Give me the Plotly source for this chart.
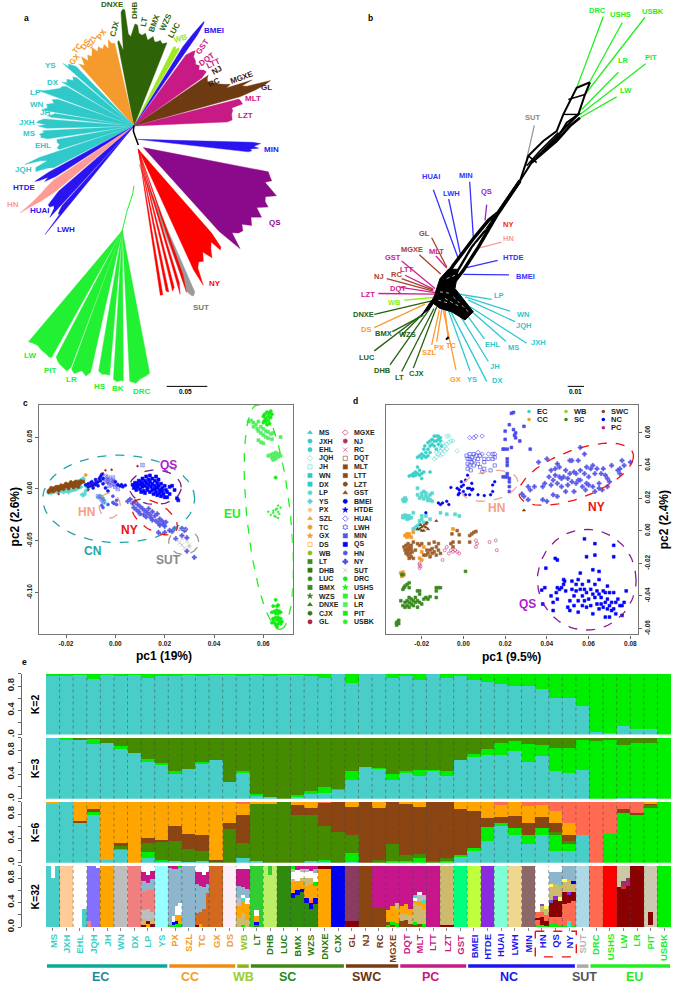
import numpy as np
import plotly.graph_objects as go

W, H = 673, 992
FONT = "Liberation Sans"
TEAL, ORANGE, LIMEY, DKGREEN, BROWN, PINK, BLUE, GRAY, LIME = "#2fc9c9", "#f59a2c", "#a0e820", "#2f6308", "#6e3a12", "#c71a85", "#2a14f0", "#9a9a9a", "#22f032"
SALMON, RED, PURPLE = "#ff9a94", "#ff0000", "#8b0a8b"

# ---------- panel a: branch tips (clock angle in degrees, branch length in scale units; 122 units = 0.05)
a_nodes = {"hub": (402, 380), "min": (412, 420), "qs": (430, 445), "ny": (415, 450), "sut": (417, 495), "eu": (367, 695)}
a_backbone_x = [402, 400, 405, 415]
a_backbone_y = [378, 395, 410, 437]
a_clades = [
    ("hub", DKGREEN, [(-11, 258), (-10, 262), (-8, 230), (-6.5, 345), (-5.5, 354), (-4.5, 352), (-3.5, 278), (-2, 270), (-1, 285), (.5, 308), (2, 305), (3, 280), (5, 275), (7, 282), (9, 262), (11, 270), (12, 276), (13.5, 262), (15, 262), (17, 270), (19, 262), (21.5, 270)]),
    ("hub", LIMEY, [(26.5, 265), (27.5, 270), (28.5, 262), (29.5, 272), (30.5, 268)]),
    ("hub", BLUE, [(31.5, 280), (32.5, 330), (33.6, 378), (34, 376), (34.7, 335)]),
    ("hub", PINK, [(36, 265), (38, 285), (39, 292), (40.5, 275), (43, 270), (45, 262), (47, 268), (49, 258), (51, 268), (53, 272), (54.5, 250)]),
    ("hub", BROWN, [(55.5, 270), (57, 262), (59, 258), (61, 270), (63, 280), (65, 298), (66.5, 315), (67.5, 300), (68.6, 380), (69.5, 345), (70.5, 360), (71.5, 432), (72.5, 410), (73.4, 380), (74.5, 330)]),
    ("hub", PINK, [(75.5, 325), (77, 330), (78.5, 332), (79.5, 298), (81, 300), (83, 295), (85, 296), (86.5, 295), (87.5, 280)]),
    ("min", BLUE, [(91.5, 345), (92, 370), (92.8, 358), (93.5, 350), (94.2, 365), (95, 340), (95.8, 345), (96.5, 335)]),
    ("qs", PURPLE, [(101, 382), (103, 390), (104.6, 398), (106, 380), (108, 400), (110, 425), (112, 395), (114, 400), (115.6, 415), (118, 385), (120.6, 412), (123, 385), (125.9, 401), (128, 375), (130, 390), (132, 385), (134, 370), (136.4, 421), (138, 340)]),
    ("ny", RED, [(139, 336), (140, 385), (141, 391), (142, 355), (144, 370), (146, 395), (148, 365), (150, 390), (152, 385), (153.5, 400), (154.6, 454), (155.5, 400)]),
    ("sut", GRAY, [(156.5, 420), (157.6, 430), (158.5, 425), (159.5, 410)]),
    ("ny", RED, [(160.5, 400), (161.5, 455)]),
    ("ny", RED, [(163, 420), (164, 455)]),
    ("ny", RED, [(165.5, 430), (166.5, 440)]),
    ("ny", RED, [(168, 440), (169, 436)]),
    ("ny", RED, [(170.5, 445), (171.5, 445)]),
    ("eu", LIME, [(220, 438), (218, 432), (216, 430), (214, 435), (212, 436), (210, 440), (209, 438)]),
    ("eu", LIME, [(207.5, 430), (206, 440), (205, 445), (203, 450), (201.5, 455), (200.5, 440)]),
    ("eu", LIME, [(200, 445), (198.5, 455), (196, 440), (194, 452), (192.5, 438)]),
    ("eu", LIME, [(189.5, 430), (188, 438), (186.5, 436), (185, 438)]),
    ("eu", LIME, [(183.4, 450), (182, 456), (180.5, 452), (179.6, 454)]),
    ("eu", LIME, [(177.2, 455), (175, 462), (173, 450), (171, 445), (169.2, 438)]),
    ("hub", ORANGE, [(-41.5, 250), (-39, 235), (-37, 262), (-35, 240), (-33, 255), (-31, 245), (-28, 268), (-26, 250), (-24, 262), (-22, 250), (-20, 262), (-18, 245), (-16.6, 272), (-15, 258), (-13, 256)]),
    ("hub", TEAL, [(-48.5, 285), (-47.5, 265), (-46.5, 272), (-45, 258), (-44, 250)]),
    ("hub", TEAL, [(-58.5, 254), (-57, 240), (-55, 246), (-53, 228), (-51, 236), (-49.8, 225)]),
    ("hub", TEAL, [(-69.5, 305), (-68, 285), (-66.5, 272), (-65, 262), (-63, 250), (-61, 246), (-59.5, 235)]),
    ("hub", TEAL, [(-80, 280), (-78, 265), (-76, 270), (-74, 250), (-72, 258), (-70.5, 240)]),
    ("hub", TEAL, [(-84, 250), (-83, 262), (-82, 246), (-81, 240)]),
    ("hub", TEAL, [(-85.5, 270), (-87, 288), (-88, 292), (-89, 265), (-90, 288), (-91.5, 262)]),
    ("hub", TEAL, [(-93, 275), (-94, 270), (-95, 285), (-96, 280), (-97, 282), (-98.5, 262)]),
    ("hub", TEAL, [(-100, 235), (-102, 236), (-104, 230), (-106, 240), (-107.5, 235)]),
    ("hub", TEAL, [(-108.5, 300), (-109.5, 347), (-110.5, 300), (-112, 280), (-113, 320), (-115, 325), (-116, 290), (-117.5, 270)]),
    ("hub", BLUE, [(-118.5, 290), (-119.3, 341), (-120, 330), (-121, 300), (-122, 316), (-123, 280)]),
    ("hub", SALMON, [(-124, 290), (-125, 320), (-126, 342), (-127, 380), (-127.5, 431), (-128, 400), (-129, 360), (-130, 310)]),
    ("hub", BLUE, [(-131, 300), (-132.7, 350), (-134, 352), (-135, 340), (-136, 345), (-137.5, 374)]),
    ("hub", BLUE, [(-138, 322), (-138.8, 340), (-139.5, 350), (-140, 345), (-140.8, 422)]),
]
a_labels = [("DNXE", 338, 14, 0, DKGREEN), ("CJX", 345, 87, -75, DKGREEN), ("DHB", 405, 30, -90, DKGREEN), ("LT", 432, 68, -80, DKGREEN), ("BMX", 462, 70, -70, DKGREEN), ("WZS", 497, 68, -65, DKGREEN), ("LUC", 522, 92, -60, DKGREEN), ("WB", 542, 117, -15, LIMEY), ("BMEI", 642, 92, 0, BLUE), ("GST", 608, 140, -55, PINK), ("DQT", 620, 178, -35, PINK), ("LTT", 640, 190, -25, PINK), ("NJ", 650, 213, -30, "#3a2010"), ("RC", 642, 248, -25, "#3a2010"), ("MGXE", 727, 235, -20, "#3a2010"), ("GL", 800, 263, 0, "#3a2010"), ("MLT", 760, 298, 0, PINK), ("LZT", 737, 347, 0, PINK), ("MIN", 815, 451, 0, BLUE), ("QS", 824, 670, 0, PURPLE), ("NY", 645, 855, 0, RED), ("SUT", 603, 926, 0, "#777777"), ("DRC", 427, 1179, 0, LIME), ("BK", 354, 1170, 0, LIME), ("HS", 300, 1165, 0, LIME), ("LR", 215, 1143, 0, LIME), ("PIT", 151, 1118, 0, LIME), ("LW", 89, 1072, 0, LIME), ("LWH", 199, 692, 0, BLUE), ("HUAI", 120, 635, 0, BLUE), ("HN", 40, 617, 0, SALMON), ("HTDE", 71, 564, 0, BLUE), ("JQH", 71, 512, 0, TEAL), ("EHL", 130, 440, 0, TEAL), ("MS", 88, 404, 0, TEAL), ("JXH", 80, 370, 0, TEAL), ("JH", 135, 340, 0, TEAL), ("WN", 112, 314, 0, TEAL), ("LP", 105, 280, 0, TEAL), ("DX", 158, 248, 0, TEAL), ("YS", 152, 197, 0, TEAL), ("GX", 224, 180, -50, ORANGE), ("TC", 232, 146, -50, ORANGE), ("DS", 257, 134, -55, ORANGE), ("SZL", 277, 126, -65, ORANGE), ("PX", 305, 103, -55, ORANGE)]

# ---------- panel b: network edges
NB, NT, NL, NR, NP, NG, NO = "#3333ff", "#2cc8d0", "#22ee22", "#a5432a", "#d02090", "#23610f", "#ff9a2e"
b_edges = [("DRC", 710, 265, 790, 50, NL, 773, 33), ("USHS", 750, 245, 847, 68, NL, 840, 45), ("USBK", 735, 285, 915, 52, NL, 940, 35), ("LR", 725, 330, 835, 218, NL, 850, 183), ("PIT", 720, 345, 917, 192, NL, 933, 174), ("LW", 720, 355, 830, 292, NL, 858, 274), ("SUT", 560, 480, 583, 378, "#999999", 576, 355), ("HUAI", 355, 780, 280, 572, NB, 274, 532), ("LWH", 362, 770, 326, 600, NB, 333, 583), ("MIN", 400, 715, 389, 548, NB, 379, 530), ("QS", 435, 665, 440, 617, "#9a20d0", 440, 577), ("HN", 415, 748, 485, 730, "#ff9a9a", 506, 720), ("HTDE", 380, 807, 473, 785, NB, 518, 777), ("BMEI", 370, 827, 507, 829, NB, 555, 834), ("GL", 320, 805, 275, 717, NR, 254, 705), ("MLT", 320, 808, 288, 772, NP, 290, 758), ("MGXE", 302, 826, 238, 768, NR, 217, 752), ("GST", 285, 870, 185, 787, NP, 160, 777), ("LTT", 280, 872, 195, 830, NP, 201, 812), ("RC", 280, 875, 185, 840, NR, 168, 828), ("NJ", 280, 878, 140, 840, NR, 116, 835), ("DQT", 285, 882, 178, 866, NP, 175, 871), ("LZT", 285, 887, 115, 885, NP, 85, 888), ("WB", 280, 897, 193, 905, "#90ee10", 163, 912), ("DNXE", 285, 905, 103, 948, NG, 69, 948), ("DS", 255, 917, 103, 988, NO, 77, 993), ("BMX", 250, 950, 157, 1000, NG, 129, 1007), ("WZS", 240, 955, 185, 1010, NG, 203, 1008), ("LUC", 250, 945, 103, 1058, NG, 82, 1077), ("DHB", 270, 930, 150, 1100, NG, 128, 1118), ("LT", 282, 930, 185, 1120, NG, 177, 1137), ("CJX", 290, 925, 220, 1110, NG, 229, 1127), ("SZL", 298, 935, 275, 1040, NO, 268, 1062), ("PX", 305, 935, 290, 1030, NO, 296, 1047), ("TC", 315, 935, 325, 1025, NO, 334, 1041), ("GX", 310, 935, 348, 1115, NO, 346, 1143), ("YS", 325, 935, 390, 1118, NT, 397, 1143), ("DX", 330, 935, 440, 1150, NT, 471, 1148), ("JH", 350, 935, 445, 1090, NT, 466, 1104), ("EHL", 370, 935, 433, 1022, NT, 458, 1038), ("MS", 385, 930, 498, 1030, NT, 520, 1049), ("JXH", 390, 925, 560, 1035, NT, 595, 1034), ("JQH", 385, 905, 525, 970, NT, 551, 981), ("WN", 375, 895, 510, 938, NT, 551, 948), ("LP", 345, 885, 455, 903, NT, 476, 892)]
b_mesh = [
    ([300, 340, 400, 445, 475, 540], [860, 800, 720, 665, 640, 545], 3.4),
    ([320, 370, 415, 470, 540], [880, 815, 745, 650, 545], 3.4),
    ([345, 395, 440, 475], [830, 745, 690, 640], 2.4),
    ([540, 565, 610, 650, 670, 710, 750], [545, 470, 425, 395, 345, 265, 248], 2),
    ([540, 575, 650, 680, 715, 735, 750], [545, 490, 420, 370, 345, 285, 248], 2),
    ([590, 650, 675, 720], [475, 410, 385, 340], 2.2),
    ([575, 650, 690, 720], [490, 425, 380, 355], 2.6),
    ([560, 600, 655], [500, 455, 400], 1.6),
    ([565, 590], [470, 490], 1.6),
    ([670, 715], [345, 345], 1.4),
    ([685, 735], [300, 285], 1.4),
    ([318, 326], [1024, 1016], 2),
]
b_blob_x = [285, 300, 325, 355, 345, 400, 375, 335, 300, 280, 270, 245, 275]
b_blob_y = [885, 840, 812, 812, 870, 940, 965, 940, 930, 915, 930, 950, 905]
b_slits = [([300, 335], [880, 885]), ([315, 360], [900, 925]), ([340, 385], [895, 940]), ([320, 345], [840, 830]), ([295, 330], [905, 915]), ([405, 418], [738, 725]), ([432, 445], [695, 682])]

# ---------- panel c: principal components (values x 1000)
c_ec = [(-27, -3.5), (-26, -4), (-25, -3), (-24, -2.5), (-23, -3), (-22, -2), (-21, -3), (-20, -2), (-19, -3), (-18, -1.5), (-17, -1), (-16, -.5), (-15, 1), (-14, 2), (-14.5, 7), (-14, 8), (-15, 7.5), (-13.5, 9), (-13, 8.5), (-13, 10), (-13.5, -5.5), (-13, -6), (-12.5, -5), (-6, -7), (-7, -8), (-5.5, -8.5), (-4.5, -11), (-4.5, -13), (-5, -9), (-12, -2), (-11, 0), (-11, 2), (-12, 3)]
c_cc = [(-22, 4), (-20, 5), (-24, 1), (-21, 3), (-18, 6.5), (-16, 7), (-12, 13.5), (-19, 2)]
c_sc = [(-25, 0), (-22, 1), (-20, 3), (-18, 4), (-23, 2), (-17, 5)]
c_swc = [(-27, -2), (-26.5, -1), (-26, -2), (-26, 0), (-25.5, -1), (-25, -1), (-25, .5), (-24.5, -.5), (-24, 0), (-24, 1), (-23.5, .5), (-23, 0), (-23, 1.5), (-22.5, 1), (-22, 1.5), (-22, .5), (-21.5, 2), (-21, 1.5), (-21, 3), (-20.5, 2), (-20, 3), (-20, 4), (-19.5, 3), (-19, 4), (-19, 2), (-18.5, 4.5), (-18, 3), (-18, 5), (-17.5, 4), (-17, 5), (-17, 3), (-16.5, 6), (-16, 4.5), (-16, 3), (-15.5, 5), (-15, 4), (-14.5, 5), (-14, 6), (-27, -3), (-26, 1), (-25, -2), (-24, 2), (-23, -1.5), (-22, 3), (-21, 0), (-20, 5), (-19, .5), (-18, 6.5), (-17, 1.5), (-16, 7), (-15, 6.5), (-14, 7.5), (-13, 7), (-15, 2)]
c_pc = [(-23, -5), (-11, -1), (-9, 2), (-8, 7), (-3, 6), (-1, 8), (-3, 10), (9, 22), (-4, 18), (-1.5, 18.5), (-5, 15)]
c_nc = [(-12, 4), (-11, 5), (-11, 2), (-10, 6), (-10, 3), (-9.5, 7), (-9, 1), (-9, 4), (-8.5, 5), (-8, 9), (-8, 4), (-7.5, 6), (-7, 7), (-7, 3), (-6.5, 10), (-6, 12), (-6, 8), (-5.5, 14), (-5, 10), (-5, 5), (0, 7), (1, 4), (2, 3), (2.5, 4), (3, 2), (4, 3.5), (-4, 1), (-3, -2)]
c_nc2 = [(-4, 12), (-3.5, 9), (-3, 11), (-3, 7), (-2, 9), (-2, 6), (-1.5, 4), (-1, 8), (-.5, 5), (0, 2), (.5, 4), (-1, 11), (-2.5, 3), (1, 0), (-4, 7), (11, 23), (-6, -8), (-7, -7), (-5, -12), (-5.5, -10)]
c_qs = [(7, 4), (7.5, 1), (8, 6), (8, 3), (8.5, -1), (9, 5), (9, 2), (9.5, 8), (10, 4), (10, 0), (10.5, 7), (10.5, -3), (11, 10), (11, 5), (11, 2), (11.5, -2), (12, 8), (12, 3), (12, -4), (12.5, 12), (12.5, 6), (13, 1), (13, -1), (13.5, 9), (13.5, 4), (14, 13), (14, 7), (14, -3), (14.5, 2), (15, 10), (15, 5), (15, -1), (15.5, -5), (16, 8), (16, 3), (16, 0), (16.5, 12), (16.5, -3), (17, 6), (17, 1), (17, -6), (17.5, 9), (17.5, 3), (18, -1), (18, -4), (18.5, 5), (18.5, -7), (19, 1), (19, -2), (19.5, -5), (20, 3), (20, -8), (20.5, -1), (21, -3), (21, -8), (22, 2), (22, -5), (23, 3), (25, -9), (25.5, -11), (24, -1)]
c_ny = [(6, -10), (5, -12), (7, -14), (7.5, -18), (8, -12), (8.5, -20), (9, -15), (9.5, -22), (10, -17), (10, -24), (11, -19), (11.5, -25), (12, -21), (12.5, -27), (13, -23), (13.5, -19), (14, -25), (14.5, -28), (15, -22), (15, -30), (16, -26), (16.5, -31), (17, -24), (17.5, -33), (18, -29), (18, -35), (19, -31), (19.5, -34), (20, -36), (20.5, -32), (17.5, -42), (20, -42), (22, -40), (23, -41), (24, -38), (27, -38), (28, -40), (28.5, -39), (27, -45), (32, -66), (29, -60), (24.5, -48), (29, -47)]
c_hn = [(-1, -7), (-1, -13), (-.5, -14), (.5, -15), (.5, -11), (-3, -15), (-5, -18), (-5.5, -16)]
c_sut = [(25, -49), (26, -52), (27, -48), (28, -57), (29, -50), (30, -54), (30, -56), (27, -54)]
c_eu1 = [(60, 70), (60.5, 72), (61, 68), (61.5, 74), (62, 70), (62.5, 73), (63, 69), (63, 75), (61, 65), (61.5, 62), (62, 66), (60, 64), (62.5, 63), (63.5, 72), (60.5, 66), (65, 11), (65, -107), (64, -113), (65.5, -113), (66, -112), (63.5, -119), (64.5, -118), (65, -120), (65.5, -117), (66, -120), (66.5, -118), (67, -119), (64, -125), (65, -124), (65.5, -126), (66, -124), (66.5, -127), (67, -125), (63.5, -129), (64.5, -129), (65, -131), (66, -130), (67, -130), (67.5, -128), (65.5, -133), (64, -126)]
c_eu2 = [(54, 65), (55, 66), (56, 64), (56, 60), (57, 62), (57.5, 58), (58, 65), (58, 56), (59, 60), (59, 54), (60, 58), (60, 52), (61, 56), (61, 50), (62, 55), (62, 49), (63, 53), (64, 54), (63.5, 48), (67, 50), (58, 47), (59, 45), (60, 44), (62, 32), (63, 33), (63.5, 30), (64, 34), (64.5, 31), (65, 35), (65, 29), (65.5, 33), (66, 31), (66, 34), (67, 32), (64, 28)]
c_eu3 = [(62, -22), (63, -25), (64, -23), (64.5, -26), (65, -20), (65, -27), (65.5, -19), (66, -16), (66, -22), (66, -28), (66.5, -24), (67, -18), (64, -21)]
c_groups = [(c_eu2, "#55ee66", "square", 3), (c_eu1, "#11ee11", "circle", 3.2), (c_eu3, "#33ee33", "circle", 1.8), (c_ec, "#58d8d0", "diamond", 3.4), (c_cc, ORANGE, "circle", 3), (c_sc, "#3a8a20", "square", 3), (c_swc, "#8b4a14", "circle", 3.4), (c_pc, "#b0143c", "circle", 1.8), (c_nc2, "#6a6af5", "square-x-open", 3.6), (c_nc, "#1010f0", "circle", 3), (c_hn, "#5555e8", "circle", 3), (c_ny, "#5a5ae8", "cross", 3.6), (c_qs, "#0000ff", "square", 3), (c_sut, "#b0b0b0", "x-thin-open", 4)]
c_ellipses = [(1.35, -9.6, 30.8, 0, 0, 42.2, "#20a5a8"), (16.2, 1.6, 10.5, 0, 0, 16.6, "#7a1a7a"), (-2.3, -16, 4.3, 0, 0, 12.1, "#f4a58a"), (15.9, -27, 8.8, -13.4, 3, 10.9, "#ee1111"), (27.7, -51.1, 6.1, 0, 0, 12.1, "#999999"), (62.2, -27.2, 4.7, -108.3, 8.8, 2.2, "#22ee22")]
c_texts = [("QS", 505, 203, "#b020d0"), ("HN", 260, 343, "#f8a080"), ("NY", 388, 397, "#ee1111"), ("CN", 276, 460, "#20a5a8"), ("SUT", 505, 490, "#888888"), ("EU", 698, 350, "#22ee22")]

# ---------- panel c legend
leg_col1 = [("MS", TEAL, "triangle-up"), ("JXH", TEAL, "circle"), ("EHL", TEAL, "circle-dot"), ("JQH", "#58d8d0", "diamond-open"), ("JH", "#58d8d0", "square-open"), ("WN", TEAL, "square"), ("DX", TEAL, "square"), ("LP", "#58d8d0", "circle"), ("YS", "#58d8d0", "diamond"), ("PX", ORANGE, "asterisk-open"), ("SZL", ORANGE, "triangle-up"), ("TC", ORANGE, "circle"), ("GX", ORANGE, "star"), ("DS", ORANGE, "square-open"), ("WB", "#86c020", "circle"), ("LT", "#3a8a20", "square-x"), ("DHB", "#2f7a10", "square"), ("LUC", "#3a8a20", "circle"), ("BMX", "#3a8a20", "square-x"), ("WZS", "#3a8a20", "star"), ("DNXE", "#2f7a10", "triangle-up"), ("CJX", "#2f7a10", "circle"), ("GL", "#b0143c", "circle-dot")]
leg_col2 = [("MGXE", "#b0143c", "diamond-open"), ("NJ", "#b0305c", "circle"), ("RC", "#b0305c", "x-thin-open"), ("DQT", "#8b4a14", "square-open"), ("MLT", "#8b4a14", "square-x"), ("LTT", "#8b4a14", "square"), ("LZT", "#8b4a14", "circle"), ("GST", "#8b4a14", "triangle-up"), ("BMEI", "#0000ee", "circle"), ("HTDE", "#0000ee", "star"), ("HUAI", "#2222ee", "diamond-open"), ("LWH", "#2222ee", "hexagram-open"), ("MIN", "#5555e8", "square-x"), ("QS", "#0000ff", "square"), ("HN", "#5555e8", "circle"), ("NY", "#4a4ae8", "cross"), ("SUT", "#b0b0b0", "x-thin-open"), ("DRC", "#11ee11", "circle"), ("USHS", "#11ee11", "star"), ("LW", "#33ee33", "square-x"), ("LR", "#55ee66", "square"), ("PIT", "#11ee11", "square"), ("USBK", "#33ee33", "circle")]

# ---------- panel d: principal components (values x 1000)
d_ec1 = [(-22, 45), (-21, 46), (-20, 47), (-20, 44.5), (-19, 50), (-19, 46), (-18.5, 52), (-18, 48), (-18, 45), (-17, 54), (-17, 50), (-17, 46), (-16, 55), (-16, 52), (-16, 48), (-15, 56), (-15, 53), (-14, 58), (-14, 55), (-14, 52), (-13, 58), (-13, 55), (-13, 50), (-12, 58), (-12, 56), (-12, 53), (-11, 57), (-11, 55), (-10.5, 52), (-26, 33.5), (-25, 34), (-24, 35), (-24, 33.5), (-23, 36), (-23, 34), (-22, 39), (-22, 35), (-21, 37), (-21, 34), (-20, 35), (-20, 32), (-19, 36), (-16, 36)]
d_ec2 = [(-13, 48), (-13, 45), (-12, 50), (-12, 47), (-11, 52), (-11, 49), (-11, 46), (-10, 54), (-10, 50), (-10, 47), (-9, 52), (-9, 49), (-8, 58), (-8, 53), (-8, 50), (-7, 58), (-7, 54), (-6, 55), (-5, 55), (-3, 49), (-14, 44)]
d_ec3 = [(-29, 19), (-28.5, 18), (-28, 19.5), (-28, 18), (-28, 20), (-27.5, 19), (-22, 26), (-22, 22), (-21, 20), (-20, 21), (-20, 23), (-19, 19.5), (-19, 24), (-18, 21), (-18, 23), (-17, 18.5), (-17, 20), (-16, 22), (-16, 19), (-15, 18), (-15, 23), (-29, 9), (-29, 8), (-28, 9.5), (-28, 8), (-27, 9), (-27, 7), (-26, 9), (-26, 7.5), (-25, 8), (-24, 11), (-23, 2), (-24, 1), (-22, 3), (-22, 1), (-21, 4), (-21, 6), (-20, 9), (-20, 7), (-19, 5), (-18, 9), (-16, 7), (-11, 11), (-8, 10), (-4, 10), (-2, 9)]
d_cc = [(-28, -3), (-27, -2), (-27, -4), (-26, -3), (-26, -2), (-25, -4), (-24, -1), (-19, -10), (-20, -13), (-21, -17), (-20, -18), (-5, 1), (-30, -26), (-29.5, -28), (-29, -25.5), (-28.5, -27)]
d_swc = [(-28.5, -10), (-28, -12), (-27.5, -9), (-27.5, -14), (-27, -11), (-27, -13), (-26.5, -8), (-26.5, -15), (-26, -10), (-26, -12), (-26, -17), (-25.5, -14), (-25, -9), (-25, -11), (-25, -16), (-24.5, -13), (-24, -17), (-24, -7), (-23, -12), (-22, -8), (-21, -9), (-20, -8), (-19, -15), (-18, -15), (-17.5, -12), (-17, -14), (-16.5, -8), (-16, -12), (-16, -16), (-15, -11), (-15, -14), (-14, -7), (-14, -13), (-13, -10), (-13, -15), (-12, -12), (-12, -8), (-11, -14), (-6, -8), (-5, -10), (-5, -7), (-5.5, -2), (-3, 0), (-2, -2.5), (-2, -7), (3, -3), (3, -7), (4, -2), (5, -1), (6, -.5)]
d_swc2 = [(-21, 1), (-20, 2), (-19, 3), (-18, 2), (-19, 0), (-20, 0), (-22, 1), (-18, 4), (-17, 1), (-20.5, 3.5), (-17.5, 5), (-13, 6), (29, 12.5)]
d_pc = [(-9, -12), (-8, -10), (-7, -14), (-6, -12), (-5, -13), (-4, -12), (-3, -13), (-2, -14), (-10, -18), (-21, -20), (-20.5, -22), (-21, -21), (-21, -23), (6, -6), (6.5, -8), (6, -10), (12.5, -7), (15.5, -6), (16, -12)]
d_sc = [(-28.5, -35), (-28, -34), (-27, -33), (-26, -32), (-26, -35), (-29, -36), (-30, -43), (-29, -46), (-28, -44), (-28, -47), (-27, -43), (-27, -46), (-26, -41), (-26, -44), (-26, -47), (-25, -42), (-25, -45), (-24, -43), (-24, -46), (-23, -41), (-23, -44), (-22, -43), (-22, -47), (-21, -39), (-21, -44), (-20, -45), (-19, -42), (-18, -41), (-17, -42), (-16, -40.5), (-22, -37), (-21, -37), (-13, -35), (-13, -37), (-12, -35), (-11, -35), (-13, -41), (-32, -57), (-31.5, -56), (-31, -57), (-32, -58), (-31, -55), (-32, -56.5), (1, -25), (-29.5, -27), (-29, -27)]
d_nc1 = [(1.5, 46), (2, 44), (2, 41), (2, 38), (3, 47), (3, 44), (3, 40), (3.5, 37), (4, 45), (4, 42), (5, 47), (5, 43), (5, 40), (6, 46), (7, 44), (7, 41), (8, 46), (8, 39), (9, 36), (10, 44), (10, 42), (10, 38), (12, 44), (13, 37), (14, 47), (14, 44), (15, 45), (15, 40)]
d_nc2 = [(3, 57), (5, 57), (6, 58), (9, 58), (7, 48), (9, 47), (12, 47), (15, 47)]
d_nc3 = [(-6, 26.5), (-3, 26), (-2, 25), (-2, 23), (-2.5, 22), (-1, 30), (-1, 27), (0, 28), (0, 24), (1, 22), (1, 31), (2, 26), (2, 34), (3, 22), (3, 26), (4, 29), (4, 25), (4.5, 25.5), (7, 22), (10, 21.5), (13, 22), (14, 28), (14, 24), (15, 30), (-7, 16), (-8, 18), (-10, 17), (-11, 16), (-12, 17), (-18, 11)]
d_nc4 = [(23, 72), (24, 72.5), (22, 65), (20, 61), (24, 62), (25, 60), (25, 57), (24.5, 58.5), (27, 55), (29, 64), (32, 50), (19.5, 50), (20, 56), (21, 50), (19, 50), (23, 51), (21, 44), (21, 42), (21, 40), (21, 35), (21, 33), (19, 33), (20, 33), (22, 32), (22, 30), (22, 27), (22, 24)]
d_ny = [(28, 22.5), (29, 21), (31, 19), (31, 27), (32, 25), (34, 27), (36, 42), (38, 27), (38, 19), (39, 29), (40, 18), (40, 44), (41, 33), (42, 28), (42, 37), (43, 31), (43, 22), (44, 34), (44, 38), (45, 29), (45, 21), (45, 41), (46, 33), (46, 39), (47, 32), (47, 27), (48, 33), (49, 24), (49, 37), (50, 32), (50, 28), (51, 35), (51, 43), (52, 30), (52, 43), (53, 24), (53, 36), (54, 29), (54, 35), (55, 31), (55, 43), (56, 31), (56, 37), (56, 51), (57, 27), (58, 35), (58, 47), (58.5, 25), (59, 29), (59, 39), (60, 28), (60, 33), (61, 38), (62, 40), (62, 27), (63, 35), (63, 24), (64, 38), (65, 26), (65, 29), (66, 35), (67, 38), (66.5, 25), (68, 34), (69, 32), (69, 27), (70, 30), (71, 40), (74, 37), (75, 35), (75, 38), (77, 40), (76, 43), (80, 42)]
d_qs = [(37.5, -36.5), (39, -35), (38, -45), (39.5, -23), (42, -40), (43, -44), (44, -17), (45, -18), (44.5, -38), (45, -42), (45, -35), (43, -49), (47, -35), (46, -36), (48, -33), (48, -30), (48.5, -31), (49, -37), (50, -47), (51, -43), (51, -49), (52, -36), (52, -31), (53, -40), (53, -46), (54, -33), (54, -37), (55, -43), (55, -30), (55, -50), (56, -36), (56, -26), (57, -40), (57, -46), (57, -33), (58, -5), (58, -36), (58, -43), (59, -38), (59, -47), (59, -16), (60, -31), (60, -42), (61, -36), (61, -46), (62, -39), (62, -24), (62, -51), (63, -8), (63, -15), (63, -33), (63, -41), (64, -37), (64, -45), (65, -39), (65, -25), (65, -30), (65, -48), (66, -41), (66, -45), (67, -37), (67, -47), (68, -38), (68, -44), (68, -53), (69, -34), (69, -42), (69, -48), (70, -38), (70, -46), (70, -53), (71, -49), (71, -44), (72, -38), (72, -48), (72, -16), (72, -9), (73, -44), (73, -51), (74, -42), (75, -46), (76, -46), (76, -52), (77, -44), (78, -37)]
d_groups = [(d_ec1, "#3ccfc8", "circle", 3), (d_ec2, "#58d8d0", "diamond-open", 3.4), (d_ec3, "#58d8d0", "square", 3), (d_cc, ORANGE, "square", 3), (d_swc, "#a0602c", "square", 2.8), (d_swc2, "#7a3810", "triangle-up", 2.8), (d_pc, "#c83080", "circle-open", 3), (d_sc, "#3a8a20", "square", 2.8), (d_nc1, "#3c3ce8", "square-open", 3.2), (d_nc2, "#3c3ce8", "diamond-open", 3.4), (d_nc3, "#0000ee", "circle", 2.6), (d_nc4, "#4a4ae8", "square", 2.8), (d_ny, "#5a5ae8", "cross", 3.6), (d_qs, "#0000ff", "square", 2.8)]
d_ellipses = [(12.46, 27.5, 13.6, 2.4, 0, 9.2, "#f4a58a"), (54, 34.6, 27.3, 9.2, 3.2, 16.7, "#ee1111"), (59.1, -30.1, 23.64, 0, 0, 30.9, "#8b1a8b")]
d_texts = [("HN", 380, 333, "#f8a080"), ("NY", 678, 330, "#ee1111"), ("QS", 471, 620, "#b020d0")]
d_legend = [("EC", 477, 41, "#3ccfc8"), ("CC", 477, 65, ORANGE), ("WB", 588, 41, "#a0c830"), ("SC", 588, 65, "#2f8a10"), ("SWC", 700, 41, "#8b4513"), ("NC", 700, 65, "#0000ee"), ("PC", 700, 90, "#c71a85")]

# ---------- panel e: admixture
pops = ["MS", "JXH", "EHL", "JQH", "JH", "WN", "DX", "LP", "YS", "PX", "SZL", "TC", "GX", "DS", "WB", "LT", "DHB", "LUC", "BMX", "WZS", "DNXE", "CJX", "GL", "NJ", "RC", "MGXE", "DQT", "MLT", "LTT", "LZT", "GST", "BMEI", "HTDE", "HUAI", "LWH", "MIN", "HN", "QS", "NY", "SUT", "DRC", "USHS", "LW", "LR", "PIT", "USBK"]
pop_groups = [("EC", 9, "#3ccfc8"), ("CC", 5, "#f59a2c"), ("WB", 1, "#8fc31f"), ("SC", 7, "#2f7a10"), ("SWC", 4, "#7a3a12"), ("PC", 5, "#c71a85"), ("NC", 8, "#1a14ee"), ("SUT", 1, "#b5b5b5"), ("EU", 6, "#22ee22")]
cT, cL, cD, cB, cO, cC = "#48cdc8", "#00ee00", "#458b00", "#8b4513", "#ffa500", "#ff6a50"
k2_teal = [.98, .96, .99, .92, .99, .96, .99, .94, .97, .97, .99, .97, .99, .99, .97, .99, .98, .99, .99, .97, .94, 1, .85, 1, 1, .93, .98, .9, 1, .93, .98, .9, .87, .83, .8, .8, .75, .6, .6, .47, .04, .02, .15, .1, .1, 0]
k3_teal = [1, .97, .97, .9, .92, .82, .75, .62, .55, .42, .49, .58, .63, .27, .42, .05, .02, 0, .04, .08, .1, .15, .3, .52, .49, .3, .43, .38, .47, .38, .63, .68, .72, .72, .78, .6, .7, .45, .42, .47, 0, 0, .01, .01, .01, 0]
k3_lime = [0, .03, 0, .09, 0, .05, 0, .03, .04, .03, 0, .02, 0, 0, .04, .03, 0, 0, .02, .04, .1, .01, .15, 0, .01, .1, .02, .1, .01, .08, 0, .05, .1, .2, .17, .3, .18, .38, .42, .5, .95, .97, .88, .9, .9, 1]
k6_shares = [[.97, 0, 0, 0, .03, 0], [1, 0, 0, 0, 0, 0], [.67, 0, 0, .02, .31, 0], [.8, .03, 0, .05, .12, 0], [.05, 0, 0, 0, .95, 0], [.21, .03, .03, .05, .68, 0], [0, 0, 0, 0, 1, 0], [.08, .1, .15, .08, .59, 0], [.02, .03, .3, .03, .62, 0], [.02, 0, .33, .25, .4, 0], [.01, 0, .22, .25, .52, 0], [.03, 0, .17, .25, .55, 0], [0, 0, .02, .02, .96, 0], [0, 0, .55, .1, .35, 0], [.07, 0, .26, .45, .2, .02], [.02, 0, .96, 0, .02, 0], [0, 0, .97, 0, .03, 0], [0, 0, 1, 0, 0, 0], [0, 0, .78, .17, .05, 0], [.02, 0, .76, .12, .1, 0], [.02, .03, .55, .39, 0, .01], [0, 0, .5, .5, 0, 0], [.01, .15, .3, .45, .09, 0], [0, 0, 0, 1, 0, 0], [0, 0, .05, .85, .1, 0], [0, .03, .27, .7, 0, 0], [0, .03, .1, .85, .02, 0], [0, .08, .07, .77, .08, 0], [0, 0, .03, .97, 0, 0], [0, .04, .03, .93, 0, 0], [.1, .02, 0, .76, .12, 0], [.2, .05, 0, .6, .15, 0], [.36, .22, 0, .16, .26, 0], [.6, .05, 0, .1, .2, .05], [.45, .12, 0, .2, .23, 0], [.3, .15, 0, .2, .28, .07], [.45, .12, 0, .18, .2, .05], [.2, .25, .05, .15, .2, .15], [.2, .1, .05, .1, .2, .35], [.46, 0, 0, 0, 0, .54], [0, 0, 0, 0, 0, 1], [0, .47, 0, 0, 0, .53], [0, .82, 0, .06, 0, .12], [0, .78, 0, .04, 0, .18], [0, .9, .06, .02, .02, 0], [0, 1, 0, 0, 0, 0]]
k6_colors = [cT, cL, cD, cB, cO, cC]
WHT, MAG, BG, TAN, DR, DKF = "#ffffff", "#c7158c", "#8db6cd", "#cdba6e", "#8b0000", "#2e8b0e"
BRN, GRY, SLM, IND, PRP, YEL, TRQ, CHO, VIO = "#8b4513", "#bebebe", "#f08080", "#0000ee", "#8a2be2", "#ffff66", "#40e0d0", "#d2691e", "#6a5acd"
k32_segments = [
    [(cT, 1)], [("#ffcc99", 1)], [(WHT, 1)], [("#8470ff", 1)], [(cO, 1)], [(GRY, 1)], [(SLM, 1)],
    [(SLM, 1)], [("#98ffff", 1)],
    [(BG, 1)], [(BG, 1)], [(BG, 1)], [(CHO, 1)], [("#fbeef5", 1)],
    [(TAN, 1)], [("#32cd32", 1)], [("#bcee68", 1)], [(DKF, 1)],
    [(DKF, 1)], [(DKF, 1)], [(cO, .95), (DR, .05)], [(IND, 1)],
    [(DR, .1), ("#8b3a62", .9)], [(BRN, 1)], [(BRN, .32), (MAG, .68)], [(MAG, 1)], [(MAG, 1)],
    [(MAG, 1)], [(MAG, 1)], [(DR, .04), (TAN, .96)], [("#00ff7f", 1)], [("#c0ff3e", 1)], [(PRP, 1)], [("#7fffd4", 1)], [("#eed78f", 1)], [("#8b6969", 1)],
    [(WHT, 1)], [(WHT, 1)], [(WHT, 1)],
    [("#add8e6", 1)], [(cC, 1)], [("#ff0000", 1)], [(DR, 1)], [(DR, 1)], [("#cdc8b1", 1)], [(cL, 1)]]
k32_columns = {
    "MS": [[(cT, 1)], [(cT, .8), (WHT, .2)], [(cT, 1)]],
    "EHL": [[(WHT, 1)], [(WHT, 1)], [(cT, .3), (WHT, .7)]],
    "JQH": [[("#ff7f7f", .1), ("#8470ff", .9)], [("#8470ff", 1)], [("#8470ff", .97), (WHT, .03)]],
    "LP": [[(DR, .03), (TAN, .1), (GRY, .15), (SLM, .3), (BG, .17), (MAG, .15), (WHT, .1)], [(cO, .05), (DR, .05), (GRY, .2), (SLM, .3), (BG, .12), (MAG, .13), (WHT, .15)], [(DR, .05), (TAN, .08), (GRY, .12), (SLM, .35), (BG, .18), (MAG, .14), (WHT, .08)]],
    "PX": [[(cL, .03), (BG, .94), (MAG, .03)], [(cL, .03), (IND, .05), (WHT, .1), (BG, .77), (MAG, .05)], [(cL, .05), (IND, .05), (cO, .1), (WHT, .15), (BG, .6), (MAG, .05)], [(cL, .05), (cO, .15), (WHT, .2), (BG, .58), (cL, .02)]],
    "TC": [[(DR, .03), (CHO, .2), (BG, .47), (MAG, .2), (WHT, .1)], [(cO, .05), (CHO, .2), (BG, .42), (MAG, .23), (WHT, .1)], [(CHO, .3), (BG, .35), (MAG, .2), (WHT, .15)], [(CHO, .55), (BG, .15), (MAG, .2), (WHT, .1)]],
    "WB": [[(TAN, .15), (cO, .2), (GRY, .12), (BG, .2), (MAG, .28), (WHT, .05)], [(cL, .03), (TAN, .2), (cO, .2), (TRQ, .05), (WHT, .05), (BG, .12), (MAG, .3), (WHT, .05)], [(TAN, .12), (cO, .25), (WHT, .1), (BG, .15), (MAG, .33), (WHT, .05)]],
    "LT": [[("#32cd32", 1)], [(DKF, .05), (IND, .03), (cO, .1), (WHT, .1), ("#32cd32", .72)], [("#32cd32", 1)]],
    "DHB": [[("#bcee68", 1)], [("#bcee68", .85), ("#32cd32", .15)], [("#bcee68", 1)]],
    "BMX": [[(DKF, .47), (IND, .08), (cO, .2), ("#d2b48c", .03), (WHT, .12), (GRY, .05), (cL, .05)], [(DKF, .52), (IND, .08), (cO, .15), (WHT, .18), (MAG, .07)], [(DKF, .58), (IND, .05), (cO, .12), (TAN, .05), (WHT, .1), (GRY, .05), (MAG, .05)]],
    "WZS": [[(DKF, .4), (IND, .08), (cO, .2), (TAN, .12), (WHT, .1), (GRY, .05), (MAG, .05)], [(DKF, .3), (IND, .1), (cC, .05), (cO, .25), (TAN, .1), (WHT, .12), (MAG, .08)], [(DKF, .38), (IND, .1), (cO, .2), (cL, .05), (WHT, .15), (BG, .07), (MAG, .05)]],
    "MGXE": [[(cL, .03), (BRN, .05), (cO, .2), (MAG, .72)], [(BRN, .03), (cL, .05), (cO, .27), (MAG, .65)], [(cL, .06), (cO, .24), (TAN, .1), (MAG, .6)]],
    "DQT": [[(BRN, .1), (TAN, .12), (cO, .13), (MAG, .65)], [(BRN, .12), (TAN, .1), (cO, .15), (MAG, .63)], [(BRN, .05), (TAN, .15), (cO, .1), (MAG, .7)]],
    "MLT": [[(BRN, .05), (cL, .03), (TAN, .3), (cO, .05), (WHT, .05), (TRQ, .05), (MAG, .47)], [(BRN, .05), (TAN, .3), (cO, .08), (GRY, .1), (WHT, .05), (MAG, .42)], [(cL, .05), (TAN, .25), (cO, .1), (TRQ, .05), (GRY, .08), (MAG, .47)]],
    "HN": [[(cL, .02), (cC, .1), (DR, .03), (cC, .1), (WHT, .75)], [(cL, .04), (DR, .12), (cC, .08), (TAN, .1), (VIO, .04), (WHT, .62)], [(cL, .02), (DR, .08), (cC, .1), (TAN, .1), (YEL, .05), (WHT, .65)]],
    "QS": [[(cL, .05), (cC, .12), (DR, .22), (VIO, .06), (TAN, .2), (YEL, .05), (BG, .2), (WHT, .1)], [(cL, .07), (cC, .1), (DR, .28), (PRP, .06), (TAN, .2), (BG, .2), (WHT, .09)], [(cL, .04), (cC, .13), (DR, .26), (YEL, .07), (TAN, .18), (TRQ, .04), (BG, .18), (WHT, .1)]],
    "NY": [[(cL, .03), (cC, .35), (DR, .2), (TAN, .15), (YEL, .05), (BG, .22)], [(TRQ, .1), (cC, .3), (DR, .12), (PRP, .05), (TAN, .2), (BG, .23)], [(cL, .02), (cC, .4), (DR, .15), (TAN, .14), (IND, .04), (BG, .25)]],
    "LW": [[(DR, .65), ("#cdc9a5", .35)], [(DR, .62), ("#cd3333", .05), ("#8b3a62", .08), ("#cdc9a5", .25)], [(DR, .68), (MAG, .05), ("#8b3a62", .07), ("#cdc9a5", .2)]],
    "PIT": [[("#cdc8b1", 1)], [("#cdc8b1", .03), (DR, .22), ("#cdc8b1", .75)], [("#cdc8b1", 1)]],
}

rows = [(677.3, 738.3, "K=2"), (741.7, 802.7, "K=3"), (806, 867, "K=6"), (870.3, 931.7, "K=32")]

fig = go.Figure()
layout = dict(width=W, height=H, margin=dict(l=0, r=0, t=0, b=0), paper_bgcolor="white", plot_bgcolor="rgba(0,0,0,0)", showlegend=False, bargap=0, barmode="stack", font=dict(family=FONT, color="black"))
ann, shapes = [], []


def xdom(a, b):
    return [a / W, b / W]


def ydom(top, bottom):
    return [1 - bottom / H, 1 - top / H]


def hidden(dom, rng, anchor):
    return dict(domain=dom, range=rng, visible=False, fixedrange=True, anchor=anchor)


def label(text, x, y, ax, size=8, color="black", angle=0, bold=True, **kw):
    ann.append(dict(text=f"<b>{text}</b>" if bold else text, x=x, y=y, xref=f"x{ax}", yref=f"y{ax}", showarrow=False, textangle=angle, font=dict(size=size, color=color, family=FONT), **kw))


def ellipse(spec, xa, ya):
    cx, cy, ux, uy, vx, vy, col = spec
    t = np.linspace(0, 2 * np.pi, 90)
    fig.add_trace(go.Scatter(x=(cx + ux * np.cos(t) + vx * np.sin(t)) / 1000, y=(cy + uy * np.cos(t) + vy * np.sin(t)) / 1000, mode="lines", line=dict(color=col, width=1.3, dash="dash"), xaxis=xa, yaxis=ya, hoverinfo="skip"))


# scatter panels
for grp, col, sym, sz in c_groups:
    fig.add_trace(go.Scatter(x=[p[0] / 1000 for p in grp], y=[p[1] / 1000 for p in grp], mode="markers", marker=dict(color=col, symbol=sym, size=sz, line=dict(width=.6, color=col)), xaxis="x", yaxis="y"))
for e in c_ellipses:
    ellipse(e, "x", "y")
for grp, col, sym, sz in d_groups:
    fig.add_trace(go.Scatter(x=[p[0] / 1000 for p in grp], y=[p[1] / 1000 for p in grp], mode="markers", marker=dict(color=col, symbol=sym, size=sz, line=dict(width=.6, color=col)), xaxis="x2", yaxis="y2"))
for e in d_ellipses:
    ellipse(e, "x2", "y2")
frame = dict(showline=True, mirror=True, linecolor="#777777", linewidth=1.2, showgrid=False, zeroline=False, ticks="outside", ticklen=3, tickcolor="#666666", tickfont=dict(size=6.5, color="#222222"), fixedrange=True, tickformat=".2f")
layout["xaxis"] = dict(frame, domain=xdom(39, 292.7), range=[-.03095, .0719], tickvals=[-.02, 0, .02, .04, .06], ticktext=[f"<b>{v:.2f}</b>" for v in [-.02, 0, .02, .04, .06]], anchor="y")
layout["yaxis"] = dict(frame, domain=ydom(406.7, 637.3), range=[-.14, .0813], tickvals=[-.1, -.05, 0, .05], ticktext=[f"<b>{v:.2f}</b>" for v in [-.1, -.05, 0, .05]], tickangle=-90, anchor="x")
layout["xaxis2"] = dict(frame, domain=xdom(385.7, 638.3), range=[-.03725, .0838], tickvals=[-.02, 0, .02, .04, .06, .08], ticktext=[f"<b>{v:.2f}</b>" for v in [-.02, 0, .02, .04, .06, .08]], anchor="y2")
layout["yaxis2"] = dict(frame, domain=ydom(406.7, 637.7), range=[-.0637, .0773], tickvals=[-.06, -.04, -.02, 0, .02, .04, .06], ticktext=[f"<b>{v:.2f}</b>" for v in [-.06, -.04, -.02, 0, .02, .04, .06]], tickangle=-90, side="right", anchor="x2")

# tree panel a
for node, col, tips in a_clades:
    ax_, ay_ = a_nodes[node]
    ang = np.radians([t[0] for t in tips])
    ln = np.array([t[1] for t in tips], float)
    xs = [ax_] + list(ax_ + ln * np.sin(ang)) + [ax_]
    ys = [ay_] + list(ay_ - ln * np.cos(ang)) + [ay_]
    fig.add_trace(go.Scatter(x=xs, y=ys, mode="lines", fill="toself", fillcolor=col, line=dict(color=col, width=.4), xaxis="x3", yaxis="y3", hoverinfo="skip"))
fig.add_trace(go.Scatter(x=[402, 398, 380, 367], y=[560, 585, 640, 695], mode="lines", line=dict(color=LIME, width=1), xaxis="x3", yaxis="y3"))
fig.add_trace(go.Scatter(x=a_backbone_x, y=a_backbone_y, mode="lines", line=dict(color="black", width=1.5), xaxis="x3", yaxis="y3"))
fig.add_trace(go.Scatter(x=[500, 622], y=[1165, 1165], mode="lines", line=dict(color="black", width=1), xaxis="x3", yaxis="y3"))
layout["xaxis3"] = hidden(xdom(0, 340), [0, 1020], "y3")
layout["yaxis3"] = hidden(ydom(0, 400), [1200, 0], "x3")
for t, x, y, a, c in a_labels:
    label(t, x, y, 3, 8, c, a)
label("0.05", 556, 1181, 3, 6.5)

# network panel b
for name, x0, y0, x1, y1, col, lx, ly in b_edges:
    fig.add_trace(go.Scatter(x=[x0, x1], y=[y0, y1], mode="lines", line=dict(color=col, width=1.3), xaxis="x4", yaxis="y4", hoverinfo="skip"))
    label(name, lx, ly, 4, 7.5, col if col != "#999999" else "#888888")
label("NY", 505, 676, 4, 7.5, "#ff2020")
fig.add_trace(go.Scatter(x=b_blob_x, y=b_blob_y, mode="lines", fill="toself", fillcolor="black", line=dict(color="black", width=1), xaxis="x4", yaxis="y4"))
for xs, ys, w in b_mesh:
    fig.add_trace(go.Scatter(x=xs, y=ys, mode="lines", line=dict(color="black", width=w), xaxis="x4", yaxis="y4"))
for xs, ys in b_slits:
    fig.add_trace(go.Scatter(x=xs, y=ys, mode="lines", line=dict(color="white", width=.7, dash="dot"), xaxis="x4", yaxis="y4"))
fig.add_trace(go.Scatter(x=[683, 732], y=[1165, 1165], mode="lines", line=dict(color="black", width=1), xaxis="x4", yaxis="y4"))
layout["xaxis4"] = hidden(xdom(340, 673), [0, 999], "y4")
layout["yaxis4"] = hidden(ydom(0, 400), [1200, 0], "x4")
label("0.01", 707, 1180, 4, 6.5)

# structure panel e
centres = [i + .5 for i in range(len(pops))]
k2 = [[v, 1 - v] for v in k2_teal]
k3 = [[a, b, max(0, 1 - a - b)] for a, b in zip(k3_teal, k3_lime)]
cols_x, cols_w, cols_s = [], [], []
for i, p in enumerate(pops):
    columns = k32_columns.get(p, [k32_segments[i]])
    for j, seg in enumerate(columns):
        cols_x.append(i + (j + .5) / len(columns))
        cols_w.append(1 / len(columns))
        cols_s.append(seg)
for r, (top, bottom, name) in enumerate(rows):
    n = 5 + r
    xa, ya = f"x{n}", f"y{n}"
    if r == 0:
        layers = [([row[i] for row in k2], [cT, cL][i]) for i in range(2)]
    elif r == 1:
        layers = [([row[i] for row in k3], [cT, cL, cD][i]) for i in range(3)]
    elif r == 2:
        layers = [([row[i] for row in k6_shares], k6_colors[i]) for i in range(6)]
    if r < 3:
        for vals, col in layers:
            fig.add_trace(go.Bar(x=centres, y=vals, width=1, marker=dict(color=col, line=dict(width=0)), xaxis=xa, yaxis=ya))
    else:
        depth = max(len(s) for s in cols_s)
        for d in range(depth):
            vals = [s[d][1] if d < len(s) else 0 for s in cols_s]
            colr = [s[d][0] if d < len(s) else WHT for s in cols_s]
            fig.add_trace(go.Bar(x=cols_x, y=vals, width=cols_w, marker=dict(color=colr, line=dict(width=0)), xaxis=xa, yaxis=ya))
    sx, sy = [], []
    for b in range(1, len(pops)):
        sx += [b, b, None]
        sy += [0, 1, None]
    fig.add_trace(go.Scatter(x=sx, y=sy, mode="lines", line=dict(color="#444444", width=.5, dash="dot"), xaxis=xa, yaxis=ya, hoverinfo="skip"))
    last = r == 3
    layout[f"xaxis{n}"] = dict(domain=xdom(46, 671), range=[0, 46], anchor=ya, showgrid=False, zeroline=False, showline=False, fixedrange=True, ticks="outside" if last else "", ticklen=3, tickcolor="#888888", tickvals=centres if last else [], showticklabels=False)
    zero = "0.0" if last else ".0"
    layout[f"yaxis{n}"] = dict(domain=ydom(top, bottom), range=[0, 1], anchor="free", position=21 / W, showgrid=False, zeroline=False, showline=True, linecolor="#666666", linewidth=1, ticks="outside", ticklen=3, tickcolor="#666666", tickvals=[0, .2, .4, .6, .8, 1], ticktext=[f"<b>{zero}</b>", "", "<b>0.4</b>", "", "<b>0.8</b>", ""], tickangle=-90, tickfont=dict(size=9.5, color="#222222"), fixedrange=True)

# page overlay: legends, titles, group bars
layout["xaxis9"] = hidden([0, 1], [0, W], "y9")
layout["yaxis9"] = hidden([0, 1], [H, 0], "x9")
for col_entries, mx in ((leg_col1, 310), (leg_col2, 345.3)):
    for i, (nm, colr, sym) in enumerate(col_entries):
        y = 434.7 + i * 8.65
        fig.add_trace(go.Scatter(x=[mx], y=[y], mode="markers", marker=dict(color=colr, symbol=sym, size=4.2, line=dict(width=.6, color=colr)), xaxis="x9", yaxis="y9"))
        label(nm, mx + 7, y, 9, 7, "#222222", xanchor="left")
for t, zx, zy, c in c_texts:
    label(t, zx / 3, 400 + zy / 3, 9, 12, c)
for t, zx, zy, c in d_texts:
    label(t, 370 + zx / 3, 400 + zy / 3, 9, 12, c)
for t, zx, zy, c in d_legend:
    mx = 370 + zx / 3
    fig.add_trace(go.Scatter(x=[mx], y=[400 + zy / 3], mode="markers", marker=dict(color=c, size=3.5), xaxis="x9", yaxis="y9"))
    label(t, mx + 6, 400 + zy / 3, 9, 7.5, "#222222", xanchor="left")
for t, x, y in (("a", 26, 18), ("b", 370, 18), ("c", 25, 405), ("d", 355, 403), ("e", 24, 665)):
    label(t, x, y, 9, 8.5)
label("pc1 (19%)", 164, 659, 9, 12)
label("pc1 (9.5%)", 511, 660, 9, 12)
label("pc2 (2.6%)", 15, 520, 9, 12, angle=-90)
label("pc2 (2.4%)", 664, 523, 9, 12, angle=-90)
for (top, bottom, name) in rows:
    label(name, 35, (top + bottom) / 2, 9, 10.5, angle=-90)
start = 0
group_label_x = {"EC": 100, "CC": 190, "WB": 243, "SC": 287, "SWC": 366, "PC": 430, "NC": 509, "SUT": 584, "EU": 634}
group_label_col = {"EC": "#1a8a9a", "SWC": "#6b3410", "SUT": "#555555", "SC": "#228b22", "WB": "#9acd32"}
for g, cnt, colr in pop_groups:
    x0, x1 = 46 + start * 13.587 + 1, 46 + (start + cnt) * 13.587 - 1
    barcol = {"EC": "#0aa898", "SUT": "#aaaaaa", "CC": "#f08a10", "SC": "#3c8a10", "SWC": "#7a3a12", "WB": "#8fb31f"}.get(g, colr)
    fig.add_trace(go.Scatter(x=[x0, x1], y=[971, 971], mode="lines", line=dict(color=barcol, width=3.5), xaxis="x9", yaxis="y9"))
    label(g, group_label_x[g], 982, 9, 12.5, group_label_col.get(g, colr))
    for i in range(start, start + cnt):
        ann.append(dict(text=f"<b>{pops[i]}</b>", x=46 + (i + .5) * 13.587, y=937, xref="x9", yref="y9", showarrow=False, textangle=-90, yanchor="top", font=dict(size=9.5, color=colr, family=FONT)))
    start += cnt
fig.add_trace(go.Scatter(x=[535.3, 576.3, 576.3, 535.3, 535.3], y=[936, 936, 961.7, 961.7, 936], mode="lines", line=dict(color="#ee1111", width=1.4, dash="dash"), xaxis="x9", yaxis="y9"))
layout["annotations"] = ann
fig.update_layout(**layout)
fig.write_html("out.html", config=dict(displayModeBar=False), post_script="document.body.style.margin='0';document.documentElement.style.overflow='hidden';")
